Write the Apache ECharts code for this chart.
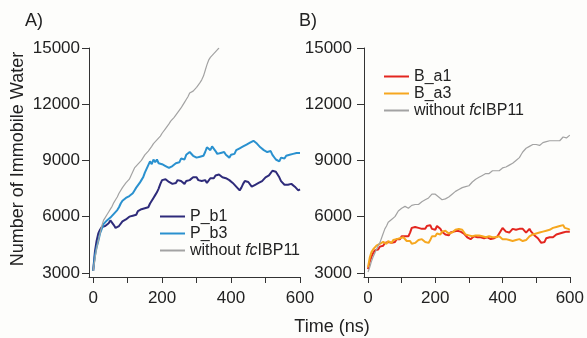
<!DOCTYPE html>
<html>
<head>
<meta charset="utf-8">
<script src="https://cdn.jsdelivr.net/npm/echarts@6/dist/echarts.min.js"></script>
<style>
  html, body { margin: 0; padding: 0; background: #fdfdfb; }
  #chart { width: 587px; height: 338px; }
</style>
</head>
<body>
<div id="chart"></div>
<script>
// time step of every series (ns)
const step = 5

// panel A
const pb1 = [3100, 4100, 4700, 5100, 5300, 5450, 5350, 5500, 5400, 5650, 5800, 5700, 5550, 5400, 5350, 5500, 5600, 5750, 5650, 5850,
  5800, 6000, 5900, 6050, 6150, 6100, 6300, 6250, 6400, 6300, 6450, 6550, 6500, 6700, 6850, 7000, 7150, 7300, 7500, 7750,
  7950, 7850, 8000, 7900, 7850, 7950, 7750, 7850, 7800, 7950, 8000, 7900, 7850, 7750, 7900, 7800, 7950, 8050, 8100, 8000,
  8100, 7950, 8000, 7900, 7850, 7950, 7800, 7900, 8050, 8150, 8050, 8200, 8150, 8250, 8200, 8100, 8200, 8050, 8100, 7950,
  7850, 7800, 7700, 7600, 7500, 7400, 7550, 7750, 7900, 8000, 7850, 7750, 7600, 7550, 7700, 7650, 7800, 7750, 7900, 8000,
  8100, 8050, 8200, 8300, 8450, 8500, 8400, 8300, 8100, 7900, 7800, 7700, 7600, 7700, 7650, 7750, 7700, 7600, 7500, 7400,
  7450]
const pb3 = [3100, 3900, 4350, 4700, 5100, 5350, 5600, 5500, 5800, 5700, 5950, 5850, 6150, 6050, 6350, 6500, 6700, 6850, 6800, 7000,
  6950, 7100, 7000, 7250, 7400, 7550, 7650, 7800, 7950, 8100, 8350, 8550, 8750, 8950, 8800, 9050, 8900, 9050, 8850, 8950,
  8800, 8900, 8700, 8750, 8600, 8650, 8700, 8800, 8850, 8950, 8900, 9100, 9200, 9050, 9300, 9250, 9450, 9350, 9250, 9300,
  9150, 9250, 9200, 9100, 9250, 9450, 9700, 9600, 9550, 9750, 9650, 9500, 9350, 9450, 9400, 9350, 9450, 9300, 9250, 9150,
  9300, 9400, 9350, 9550, 9500, 9650, 9600, 9750, 9700, 9850, 9800, 9950, 9900, 10050, 9950, 9900, 9800, 9700, 9600, 9550,
  9600, 9450, 9400, 9500, 9300, 9200, 9050, 9100, 8950, 9150, 9200, 9100, 9250, 9200, 9300, 9250, 9350, 9250, 9400, 9450,
  9400]
const noFcA = [3100, 3700, 4300, 4700, 5100, 5500, 5800, 5950, 6100, 6250, 6400, 6550, 6750, 6900, 7050, 7250, 7350, 7550, 7650, 7800,
  7850, 8000, 8200, 8400, 8600, 8650, 8800, 8900, 9000, 9150, 9300, 9400, 9500, 9600, 9750, 9900, 10000, 10100, 10150, 10300,
  10450, 10550, 10700, 10800, 10950, 11100, 11200, 11300, 11400, 11550, 11650, 11800, 11950, 12100, 12250, 12400, 12600, 12650, 12700, 12800,
  12900, 13000, 13150, 13300, 13500, 13800, 14100, 14350, 14500, 14600, 14700, 14800, 14900, 15000]

// panel B
const ba1 = [3200, 3600, 3850, 4050, 4200, 4300, 4250, 4400, 4500, 4450, 4600, 4550, 4650, 4700, 4600, 4700, 4650, 4800, 4900, 4800,
  4950, 4850, 4950, 5000, 4950, 5150, 5400, 5500, 5450, 5550, 5400, 5500, 5350, 5250, 5350, 5500, 5450, 5550, 5350, 5250,
  5300, 5500, 5550, 5350, 5200, 5150, 5050, 5100, 5000, 5150, 5100, 5200, 5100, 5250, 5300, 5200, 5250, 5100, 5000, 4900,
  4950, 4800, 4900, 4950, 5000, 4900, 4850, 4900, 4950, 4850, 4950, 4900, 4850, 4800, 4750, 4850, 4800, 4950, 5100, 5250,
  5400, 5300, 5200, 5100, 5150, 5250, 5350, 5250, 5300, 5200, 5350, 5450, 5350, 5250, 5150, 5250, 5350, 5200, 5100, 5000,
  4950, 4850, 4800, 4600, 4700, 4650, 4850, 4800, 4900, 4950, 4900, 5000, 5050, 5000, 5100, 5050, 5150, 5100, 5200, 5150,
  5200]
const ba3 = [3300, 3800, 4100, 4250, 4350, 4450, 4400, 4550, 4500, 4650, 4600, 4550, 4700, 4650, 4600, 4750, 4700, 4800, 4750, 4850,
  4800, 4900, 4800, 4700, 4650, 4700, 4550, 4650, 4600, 4700, 4750, 4650, 4800, 4700, 4650, 4750, 4600, 4750, 4950, 5050,
  4950, 5100, 5150, 5050, 5200, 5150, 5250, 5150, 5100, 5200, 5150, 5250, 5300, 5200, 5350, 5250, 5300, 5200, 5050, 5100,
  5000, 5050, 4950, 5050, 5000, 4950, 5000, 4900, 4950, 4850, 4900, 4850, 4950, 4850, 4900, 4800, 4900, 4850, 4950, 4850,
  4800, 4750, 4800, 4700, 4750, 4650, 4700, 4650, 4750, 4700, 4800, 4750, 4700, 4800, 4750, 4850, 4950, 5000, 5050, 5000,
  5100, 5050, 5150, 5100, 5200, 5150, 5250, 5200, 5300, 5350, 5400, 5300, 5450, 5400, 5500, 5450, 5550, 5400, 5500, 5350,
  5300]
const noFcB = [3050, 3300, 3600, 3850, 4050, 4250, 4450, 4600, 4850, 5100, 5350, 5500, 5700, 5800, 5850, 5950, 6000, 6150, 6300, 6400,
  6450, 6500, 6550, 6500, 6450, 6500, 6600, 6550, 6650, 6700, 6650, 6750, 6800, 6850, 6900, 6950, 7000, 7100, 7200, 7250,
  7200, 7100, 7050, 6950, 6900, 6850, 6950, 7000, 7050, 7100, 7200, 7250, 7350, 7400, 7450, 7500, 7550, 7500, 7600, 7650,
  7650, 7750, 7850, 7950, 8000, 8050, 8100, 8150, 8200, 8250, 8300, 8350, 8300, 8400, 8450, 8400, 8450, 8500, 8450, 8550,
  8600, 8550, 8650, 8700, 8750, 8800, 8850, 8900, 9000, 9050, 9150, 9300, 9450, 9550, 9650, 9700, 9750, 9800, 9850, 9800,
  9850, 9850, 9800, 9900, 9950, 9900, 10000, 10050, 10050, 10100, 10050, 10100, 10050, 10000, 10050, 10150, 10250, 10250, 10200, 10150,
  10350]

const yTicks = [3000, 6000, 9000, 12000, 15000]
const xTicks = [0, 100, 200, 300, 400, 500, 600]
const xLabels = [0, 200, 400, 600]

const colors = {
  pb1: '#2e2b7a',
  pb3: '#2a91cf',
  ba1: '#e3261f',
  ba3: '#f6a71f',
  gray: '#a3a3a3',
}
const noFcName = 'without fcIBP11'

function toPoints(arr) {
  return arr.map((v, i) => [i * step, v])
}

function xAxisOf(idx) {
  return {
    type: 'value',
    gridIndex: idx,
    min: -12,
    max: 600,
    splitLine: { show: false },
    axisLine: { onZero: false, lineStyle: { color: '#333', width: 1 } },
    axisTick: { customValues: xTicks, length: 6, lineStyle: { color: '#333' } },
    axisLabel: {
      customValues: xLabels,
      margin: 13,
      fontSize: 17,
      color: '#222',
      fontFamily: 'Liberation Sans',
      formatter: v => String(v),
    },
  }
}

function yAxisOf(idx, margin) {
  return {
    type: 'value',
    gridIndex: idx,
    min: 2780,
    max: 15000,
    splitLine: { show: false },
    axisLine: { show: true, onZero: false, lineStyle: { color: '#333', width: 1 } },
    axisTick: { show: true, customValues: yTicks, length: 7, lineStyle: { color: '#333' } },
    axisLabel: {
      customValues: yTicks,
      margin,
      fontSize: 17,
      color: '#222',
      fontFamily: 'Liberation Sans',
      formatter: v => String(v),
    },
  }
}

function line(name, arr, color, width, idx) {
  return {
    name,
    type: 'line',
    xAxisIndex: idx,
    yAxisIndex: idx,
    data: toPoints(arr),
    showSymbol: false,
    symbol: 'none',
    animation: false,
    lineStyle: { color, width },
    itemStyle: { color },
  }
}

const legendText = {
  fontSize: 16,
  lineHeight: 17,
  color: '#222',
  fontFamily: 'Liberation Sans',
  rich: {
    n: { fontSize: 16, lineHeight: 17, color: '#222', fontFamily: 'Liberation Sans' },
    i: { fontSize: 16, lineHeight: 17, color: '#222', fontFamily: 'Liberation Sans', fontStyle: 'italic' },
  },
}

function legendFormatter(name) {
  if (name === noFcName)
    return '{n|without }{i|fc}{n|IBP11}'
  return '{n|' + name + '}'
}

function legendOf(left, top, names) {
  return {
    orient: 'vertical',
    left,
    top,
    icon: 'rect',
    itemWidth: 25,
    itemHeight: 2,
    itemGap: 0,
    padding: 0,
    data: names,
    formatter: legendFormatter,
    textStyle: legendText,
    selectedMode: false,
  }
}

const chart = echarts.init(document.getElementById('chart'), null, { renderer: 'canvas' })
chart.setOption({
  backgroundColor: '#fdfdfb',
  animation: false,
  grid: [
    { left: 89, right: 287, top: 48, bottom: 61 },
    { left: 364, right: 13, top: 48, bottom: 61 },
  ],
  xAxis: [xAxisOf(0), xAxisOf(1)],
  yAxis: [yAxisOf(0, 9), yAxisOf(1, 12)],
  legend: [
    legendOf(160, 208, ['P_b1', 'P_b3', noFcName]),
    legendOf(384, 68, ['B_a1', 'B_a3', noFcName]),
  ],
  series: [
    line('P_b1', pb1, colors.pb1, 2, 0),
    line('P_b3', pb3, colors.pb3, 2, 0),
    line(noFcName, noFcA, colors.gray, 1.2, 0),
    line('B_a1', ba1, colors.ba1, 2, 1),
    line('B_a3', ba3, colors.ba3, 2, 1),
    line(noFcName, noFcB, colors.gray, 1.2, 1),
  ],
  graphic: [
    {
      type: 'text', left: 25, top: 12,
      style: { text: 'A)', fontSize: 18, fill: '#222', fontFamily: 'Liberation Sans' },
    },
    {
      type: 'text', left: 299, top: 12,
      style: { text: 'B)', fontSize: 18, fill: '#222', fontFamily: 'Liberation Sans' },
    },
    {
      type: 'text', x: 18, y: 159, rotation: Math.PI / 2,
      style: { text: 'Number of Immobile Water', fontSize: 18, fill: '#222', fontFamily: 'Liberation Sans', align: 'center', verticalAlign: 'middle' },
    },
    {
      type: 'text', x: 332, y: 327,
      style: { text: 'Time (ns)', fontSize: 18, fill: '#222', fontFamily: 'Liberation Sans', align: 'center', verticalAlign: 'middle' },
    },
  ],
})
</script>
</body>
</html>
